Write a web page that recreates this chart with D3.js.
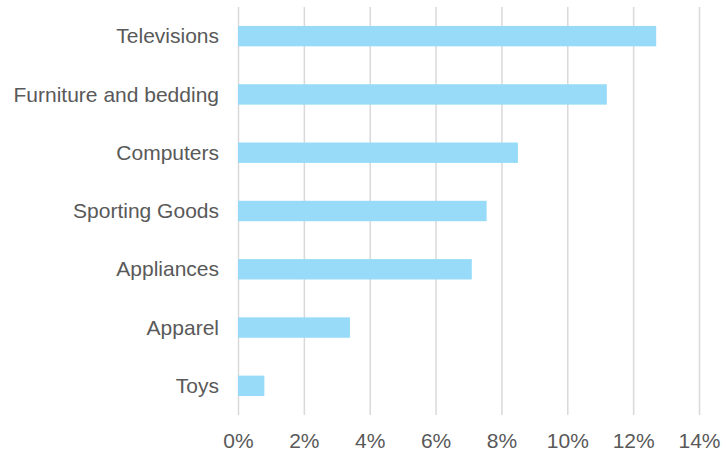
<!DOCTYPE html>
<html>
<head>
<meta charset="utf-8">
<script src="https://cdn.jsdelivr.net/npm/d3@7"></script>
<style>
  html, body { margin: 0; padding: 0; background: #fff; }
  svg text { font-family: "Liberation Sans", Arial, sans-serif; fill: #595959; }
</style>
</head>
<body>
<svg id="chart" width="726" height="452"></svg>
<script>
// Share of sales by product category (percent)
const categories = ["Televisions", "Furniture and bedding", "Computers", "Sporting Goods", "Appliances", "Apparel", "Toys"];
const shares = [12.7, 11.2, 8.5, 7.55, 7.1, 3.4, 0.8];
const tickValues = [0, 2, 4, 6, 8, 10, 12, 14];

const svg = d3.select("#chart");
const plot = { left: 238, right: 699, top: 7, bottom: 415 };

const x = d3.scaleLinear().domain([0, 14]).range([plot.left, plot.right]);
const y = d3.scaleBand().domain(categories).range([plot.top, plot.bottom])
  .paddingInner(0.65).paddingOuter(0.325);

// vertical gridlines with percentage labels underneath
const xAxis = svg.append("g")
  .attr("transform", `translate(0,${plot.bottom})`)
  .call(d3.axisBottom(x).tickValues(tickValues).tickFormat(d => d + "%")
    .tickSize(-(plot.bottom - plot.top)).tickPadding(0));
xAxis.select(".domain").remove();
xAxis.selectAll("line").attr("stroke", "#d9d9d9").attr("stroke-width", 1.5);
xAxis.selectAll("text").attr("font-size", 21).attr("y", 33).attr("dy", 0);

// bars
svg.append("g").selectAll("rect")
  .data(categories)
  .join("rect")
  .attr("x", x(0))
  .attr("y", d => y(d))
  .attr("width", (d, i) => x(shares[i]) - x(0))
  .attr("height", y.bandwidth())
  .attr("fill", "#97dbf9");

// category labels
const yAxis = svg.append("g")
  .attr("transform", `translate(${plot.left},0)`)
  .call(d3.axisLeft(y).tickSize(0).tickPadding(19));
yAxis.select(".domain").remove();
yAxis.selectAll("text").attr("font-size", 21).attr("dy", "0.34em");
</script>
</body>
</html>
